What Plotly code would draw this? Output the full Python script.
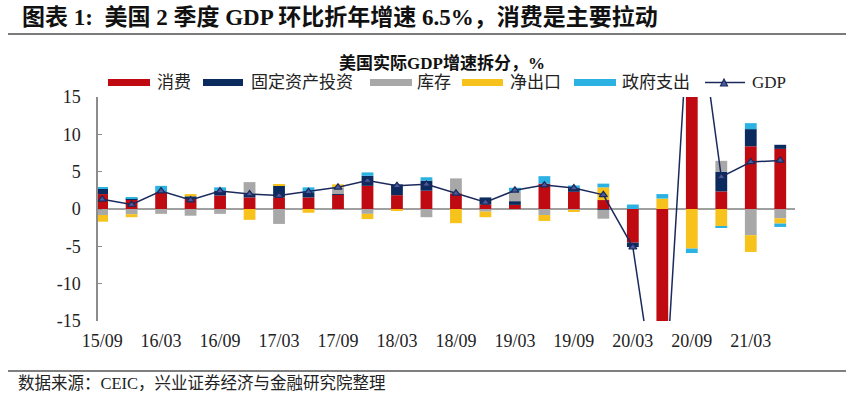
import plotly.graph_objects as go

# ---------------- data ----------------
quarters = ["15/09", "15/12", "16/03", "16/06", "16/09", "16/12", "17/03", "17/06",
            "17/09", "17/12", "18/03", "18/06", "18/09", "18/12", "19/03", "19/06",
            "19/09", "19/12", "20/03", "20/06", "20/09", "20/12", "21/03", "21/06"]
tick_labels = quarters[::2]

consumption = [2.0, 1.3, 2.25, 1.35, 1.8, 1.55, 1.55, 1.55, 1.9, 3.1, 1.85, 2.45,
               2.1, 0.6, 0.55, 3.4, 2.3, 1.2, -4.5, -24.0, 25.5, 2.35, 8.4, 8.05]
investment = [0.7, 0.1, 0.0, 0.35, 0.65, 0.45, 1.6, 0.7, 0.1, 1.35, 1.45, 1.35,
              0.0, 0.95, 0.5, 0.0, 0.5, -0.1, -0.6, -5.3, 5.3, 2.65, 2.3, 0.55]
inventory = [-0.8, -0.7, -0.65, -0.9, -0.65, 1.6, -2.0, 0.0, 0.9, -0.65, 0.0, -1.1,
             2.0, -0.35, 1.3, -0.8, -0.2, -1.2, 0.0, -3.7, 6.6, 1.45, -3.5, -1.25]
net_exports = [-0.9, -0.4, 0.0, 0.3, 0.0, -1.45, 0.15, -0.5, 0.4, -0.7, -0.15, 0.0,
               -1.9, -0.75, 0.0, -0.8, -0.1, 1.7, 0.0, 1.4, -5.3, -2.4, -2.25, -0.7]
government = [0.25, 0.15, 0.85, 0.0, 0.45, 0.0, 0.0, 0.65, 0.0, 0.45, 0.0, 0.45,
              0.0, 0.0, 0.5, 1.0, 0.35, 0.5, 0.6, 0.6, -0.6, -0.1, 0.8, -0.45]
gdp = [1.3, 0.6, 2.4, 1.2, 2.4, 2.0, 1.8, 2.3, 2.9, 3.8, 3.1, 3.3,
       2.1, 0.9, 2.5, 3.2, 2.8, 1.9, -5.1, -31.4, 33.4, 4.3, 6.3, 6.5]

y_tickvals = [15, 10, 5, 0, -5, -10, -15]
y_ticktext = ["15", "10", "5", "0", "-5", "-10", "-15"]

series_names = ["消费", "固定资产投资", "库存", "净出口", "政府支出"]
series_values = [consumption, investment, inventory, net_exports, government]
series_colors = ["#C00A12", "#0B2A5E", "#A8A8A8", "#F6C21B", "#2BB2E3"]
gdp_color = "#1B2A5C"

title_text = "图表 1:  美国 2 季度 GDP 环比折年增速 6.5%，消费是主要拉动"
chart_title = "美国实际GDP增速拆分，%"
source_text = "数据来源：CEIC，兴业证券经济与金融研究院整理"

# ---------------- layout geometry ----------------
W, H = 851, 400
ML, MR, MT, MB = 98, 56, 97, 79
PW, PH = W - ML - MR, H - MT - MB


def px(x):
    return (x - ML) / PW


def py(y):
    return (H - MB - y) / PH


SERIF = "Liberation Serif, Noto Sans CJK SC, serif"
CJK = "Liberation Serif, Noto Sans CJK SC, sans-serif"

fig = go.Figure()
for name, vals, col in zip(series_names, series_values, series_colors):
    fig.add_trace(go.Bar(x=quarters, y=vals, name=name, marker_color=col,
                         marker_line_width=0, width=0.4, showlegend=False))

fig.add_trace(go.Scatter(x=quarters, y=gdp, name="GDP", mode="lines+markers",
                         line=dict(color=gdp_color, width=1.5),
                         marker=dict(symbol="triangle-up", size=7, color="#4A5A9C",
                                     line=dict(color=gdp_color, width=1.2)),
                         showlegend=False))

shapes = []
annotations = []

# top title and rule
annotations.append(dict(x=px(20), y=py(17), xref="paper", yref="paper", xanchor="left",
                        yanchor="middle", showarrow=False, text="<b>" + title_text + "</b>",
                        font=dict(family=CJK, size=23, color="#111111")))
shapes.append(dict(type="line", xref="paper", yref="paper", x0=px(8), x1=px(846),
                   y0=py(34), y1=py(34), line=dict(color="#7A7A7A", width=2)))

# chart title
annotations.append(dict(x=px(442), y=py(63), xref="paper", yref="paper", xanchor="center",
                        yanchor="middle", showarrow=False, text="<b>" + chart_title + "</b>",
                        font=dict(family=CJK, size=17, color="#111111")))

# custom legend
leg_y = 82.5
swatches = [(108, 150, 155), (203, 243, 249), (370, 412, 415), (462, 503, 508), (574, 616, 620)]
for (x0, x1, tx), name, col in zip(swatches, series_names, series_colors):
    shapes.append(dict(type="rect", xref="paper", yref="paper", x0=px(x0), x1=px(x1),
                       y0=py(leg_y + 3.5), y1=py(leg_y - 3.5), fillcolor=col, line_width=0))
    annotations.append(dict(x=px(tx), y=py(leg_y), xref="paper", yref="paper", xanchor="left",
                            yanchor="middle", showarrow=False, text=name,
                            font=dict(family=CJK, size=17, color="#222222")))
shapes.append(dict(type="line", xref="paper", yref="paper", x0=px(705), x1=px(745),
                   y0=py(leg_y), y1=py(leg_y), line=dict(color=gdp_color, width=1.5)))
shapes.append(dict(type="path", xref="paper", yref="paper",
                   path="M {} {} L {} {} L {} {} Z".format(px(720.5), py(leg_y + 3.5), px(727.5), py(leg_y + 3.5),
                                                           px(724), py(leg_y - 3.5)),
                   fillcolor="#4A5A9C", line=dict(color=gdp_color, width=1.2)))
annotations.append(dict(x=px(750), y=py(leg_y), xref="paper", yref="paper", xanchor="left",
                        yanchor="middle", showarrow=False, text="GDP",
                        font=dict(family=SERIF, size=17, color="#222222")))

# footer
shapes.append(dict(type="line", xref="paper", yref="paper", x0=px(8), x1=px(846),
                   y0=py(371), y1=py(371), line=dict(color="#555555", width=1.5)))
annotations.append(dict(x=px(16), y=py(383), xref="paper", yref="paper", xanchor="left",
                        yanchor="middle", showarrow=False, text=source_text,
                        font=dict(family=CJK, size=16.5, color="#222222")))

fig.update_layout(
    width=W, height=H, autosize=False,
    margin=dict(l=ML, r=MR, t=MT, b=MB, pad=0),
    paper_bgcolor="white", plot_bgcolor="white",
    barmode="relative", bargap=0.6,
    shapes=shapes, annotations=annotations,
    font=dict(family=SERIF, size=17, color="#222222"),
)
fig.update_xaxes(type="category", range=[-0.14, 23.5], tickmode="array",
                 tickvals=tick_labels, ticktext=tick_labels, showgrid=False,
                 showline=False, ticks="", ticklabelstandoff=7,
                 tickfont=dict(family=SERIF, size=18, color="#222222"))
fig.update_yaxes(range=[-15, 15], tickmode="array", tickvals=y_tickvals, ticktext=y_ticktext,
                 showgrid=False, showline=True, linecolor="#8C8C8C", linewidth=1.5,
                 ticks="inside", ticklen=4, tickcolor="#8C8C8C",
                 zeroline=True, zerolinecolor="#A0A0A0", zerolinewidth=2,
                 tickfont=dict(family=SERIF, size=18, color="#222222"), ticklabelstandoff=12)

fig.write_html("out.html", config={"displayModeBar": False},
               post_script="document.body.style.margin='0';")
